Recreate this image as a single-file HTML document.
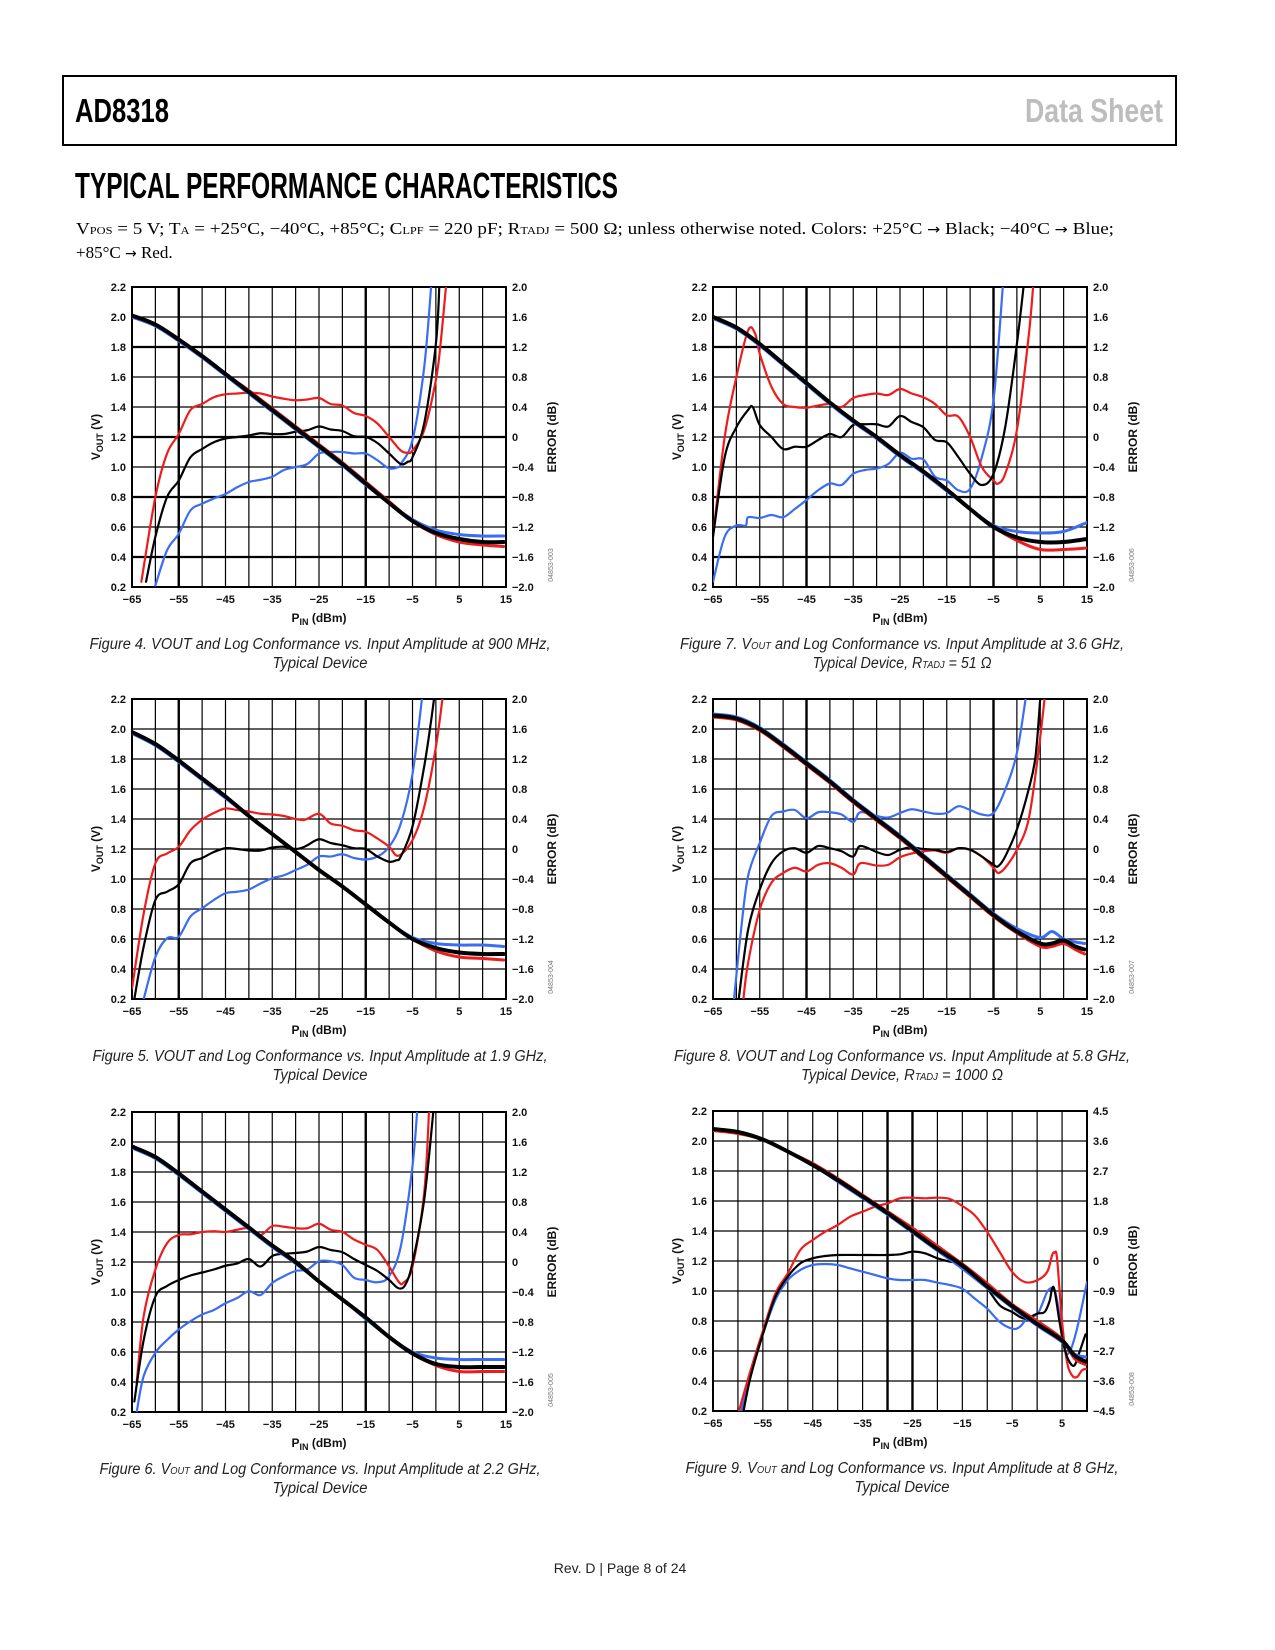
<!DOCTYPE html>
<html><head><meta charset="utf-8"><title>AD8318 Typical Performance Characteristics</title>
<style>
html,body{margin:0;padding:0;background:#fff;}
svg{display:block;}
.tk{font-family:"Liberation Sans",Arial,sans-serif;font-weight:bold;font-size:11px;fill:#111;}
.al{font-family:"Liberation Sans",Arial,sans-serif;font-weight:bold;font-size:12px;fill:#111;}
.cap{font-family:"Liberation Sans",Arial,sans-serif;font-style:italic;font-size:15.5px;fill:#222;}
.code{font-family:"Liberation Sans",Arial,sans-serif;font-size:7px;fill:#777;}
.arr{font-family:"DejaVu Sans",sans-serif;font-size:14px;}
</style></head>
<body>
<svg id="page" xmlns="http://www.w3.org/2000/svg" width="1275" height="1650" viewBox="0 0 1275 1650">
<rect x="0" y="0" width="1275" height="1650" fill="#fff"/>
<g>
<rect x="63" y="76" width="1113" height="69" fill="none" stroke="#000" stroke-width="2"/>
<text x="75" y="122" font-family="Liberation Sans Narrow, Liberation Sans, sans-serif" font-weight="bold" font-size="33" textLength="94" lengthAdjust="spacingAndGlyphs">AD8318</text>
<text x="1163" y="122" text-anchor="end" fill="#bdbdbd" font-family="Liberation Sans Narrow, Liberation Sans, sans-serif" font-weight="bold" font-size="33" textLength="138" lengthAdjust="spacingAndGlyphs">Data Sheet</text>
</g>
<text x="75" y="198" font-family="Liberation Sans Narrow, Liberation Sans, sans-serif" font-weight="bold" font-size="36" textLength="543" lengthAdjust="spacingAndGlyphs">TYPICAL PERFORMANCE CHARACTERISTICS</text>
<text x="76" y="234" font-family="Liberation Serif, serif" font-size="17" textLength="1038" lengthAdjust="spacingAndGlyphs">V<tspan font-size="11">POS</tspan> = 5 V; T<tspan font-size="11">A</tspan> = +25°C, −40°C, +85°C; C<tspan font-size="11">LPF</tspan> = 220 pF; R<tspan font-size="11">TADJ</tspan> = 500 Ω; unless otherwise noted. Colors: +25°C <tspan class="arr">→</tspan> Black; −40°C <tspan class="arr">→</tspan> Blue;</text>
<text x="76" y="258" font-family="Liberation Serif, serif" font-size="17">+85°C <tspan class="arr">→</tspan> Red.</text>
<text x="620" y="1573" text-anchor="middle" font-family="Liberation Sans, sans-serif" font-size="14" fill="#222">Rev. D | Page 8 of 24</text>
<g id="charts"></g>
</svg>
<script>
// ---------- shared tick labels ----------
const leftTickVals = [2.2,2.0,1.8,1.6,1.4,1.2,1.0,0.8,0.6,0.4,0.2];
const leftTickLabels = ['2.2','2.0','1.8','1.6','1.4','1.2','1.0','0.8','0.6','0.4','0.2'];
const errTickLabels2 = ['2.0','1.6','1.2','0.8','0.4','0','\u22120.4','\u22120.8','\u22121.2','\u22121.6','\u22122.0'];
const errTickLabels45 = ['4.5','3.6','2.7','1.8','0.9','0','\u22120.9','\u22121.8','\u22122.7','\u22123.6','\u22124.5'];
const xTickVals80 = [-65,-55,-45,-35,-25,-15,-5,5,15];
const xTickVals75 = [-65,-55,-45,-35,-25,-15,-5,5];

// ---------- VOUT data (V) ----------
const voutX = [-65,-60,-55,-50,-45,-40,-35,-30,-25,-20,-15,-10,-5,0,5,10,14.5];
const f4VoutBlack = [2.01,1.95,1.85,1.74,1.62,1.50,1.38,1.26,1.14,1.02,0.89,0.76,0.64,0.56,0.52,0.50,0.50];
const f4VoutBlue  = [2.00,1.94,1.84,1.73,1.61,1.49,1.37,1.25,1.13,1.01,0.88,0.76,0.65,0.58,0.55,0.54,0.54];
const f4VoutRed   = [2.01,1.95,1.85,1.74,1.62,1.51,1.39,1.27,1.15,1.03,0.90,0.77,0.64,0.55,0.50,0.48,0.47];
const f5VoutBlack = [1.98,1.90,1.79,1.67,1.55,1.42,1.30,1.18,1.06,0.95,0.83,0.71,0.60,0.54,0.51,0.50,0.50];
const f5VoutBlue  = [1.97,1.89,1.78,1.66,1.54,1.42,1.30,1.18,1.06,0.95,0.83,0.71,0.61,0.57,0.56,0.56,0.55];
const f5VoutRed   = [1.98,1.90,1.79,1.67,1.55,1.42,1.30,1.18,1.06,0.95,0.83,0.71,0.60,0.52,0.48,0.47,0.46];
const f6VoutBlack = [1.97,1.90,1.79,1.67,1.55,1.43,1.31,1.20,1.07,0.95,0.83,0.70,0.59,0.52,0.50,0.50,0.50];
const f6VoutBlue  = [1.96,1.89,1.78,1.66,1.54,1.42,1.30,1.19,1.07,0.95,0.82,0.70,0.60,0.56,0.55,0.55,0.55];
const f6VoutRed   = [1.97,1.90,1.79,1.67,1.55,1.43,1.31,1.20,1.07,0.95,0.83,0.70,0.59,0.51,0.47,0.47,0.47];
const f7VoutX = [-65,-60,-55,-50,-45,-40,-35,-30,-25,-20,-15,-10,-5,0,5,10,15];
const f7VoutBlack = [2.00,1.93,1.82,1.69,1.56,1.43,1.31,1.20,1.08,0.97,0.85,0.72,0.60,0.53,0.50,0.50,0.52];
const f7VoutBlue  = [1.99,1.92,1.81,1.68,1.55,1.42,1.30,1.19,1.07,0.96,0.84,0.72,0.61,0.57,0.56,0.57,0.63];
const f7VoutRed   = [2.00,1.93,1.82,1.69,1.56,1.43,1.31,1.20,1.08,0.97,0.85,0.72,0.60,0.51,0.45,0.45,0.46];
const f8VoutX = [-65,-60,-55,-50,-45,-40,-35,-30,-25,-20,-15,-10,-5,0,5,7.5,10,12.5,14.5];
const f8VoutBlack = [2.09,2.07,2.00,1.89,1.77,1.65,1.52,1.40,1.28,1.15,1.02,0.89,0.76,0.65,0.57,0.57,0.59,0.55,0.53];
const f8VoutBlue  = [2.10,2.08,2.01,1.90,1.78,1.66,1.53,1.41,1.29,1.16,1.03,0.90,0.77,0.67,0.61,0.65,0.60,0.58,0.57];
const f8VoutRed   = [2.08,2.06,1.99,1.88,1.76,1.64,1.51,1.39,1.27,1.14,1.01,0.88,0.75,0.64,0.55,0.55,0.57,0.53,0.50];
const f9VoutX = [-65,-60,-55,-50,-45,-40,-35,-30,-25,-20,-15,-10,-5,0,5,7.5,9.7];
const f9VoutBlack = [2.08,2.06,2.01,1.93,1.84,1.74,1.63,1.52,1.40,1.28,1.17,1.03,0.90,0.78,0.67,0.57,0.53];
const f9VoutBlue  = [2.08,2.06,2.01,1.93,1.84,1.73,1.62,1.51,1.39,1.27,1.15,1.02,0.89,0.77,0.66,0.58,0.56];
const f9VoutRed   = [2.07,2.05,2.01,1.93,1.85,1.75,1.64,1.53,1.42,1.30,1.18,1.05,0.91,0.80,0.68,0.55,0.51];

// ---------- Log conformance error data (dB) ----------
const f4ErrBlackX = [-62,-60,-57.5,-55,-52.5,-50,-47.5,-45,-42.5,-40,-37.5,-35,-32.5,-30,-27.5,-25,-22.5,-20,-17.5,-15,-12.5,-10,-7.5,-6,-5,-2.5,0,0.8];
const f4ErrBlack  = [-1.93,-1.33,-0.8,-0.58,-0.27,-0.16,-0.07,-0.02,0,0.02,0.05,0.04,0.04,0.07,0.09,0.14,0.10,0.08,0.01,0,-0.08,-0.22,-0.36,-0.33,-0.27,0.18,1.24,2.1];
const f4ErrRedX = [-63,-60,-57.5,-55,-52.5,-50,-47.5,-45,-42.5,-40,-37.5,-35,-32.5,-30,-27.5,-25,-22.5,-20,-17.5,-15,-12.5,-10,-7.5,-6,-5,-2.5,0,1,2.3];
const f4ErrRed  = [-1.93,-0.8,-0.22,0.04,0.36,0.44,0.53,0.57,0.58,0.59,0.58,0.54,0.51,0.49,0.50,0.52,0.44,0.42,0.32,0.28,0.18,0,-0.18,-0.21,-0.18,0.09,0.76,1.24,2.1];
const f4ErrBlueX = [-60,-57.5,-55,-52.5,-50,-47.5,-45,-42.5,-40,-37.5,-35,-32.5,-30,-27.5,-25,-22.5,-20,-17.5,-15,-12.5,-10,-8,-7.5,-5,-2.5,-0.9];
const f4ErrBlue  = [-1.98,-1.51,-1.29,-0.98,-0.89,-0.82,-0.76,-0.67,-0.6,-0.57,-0.53,-0.44,-0.4,-0.36,-0.22,-0.2,-0.2,-0.22,-0.22,-0.31,-0.42,-0.40,-0.36,-0.04,0.93,2.1];

const f5ErrBlackX = [-64.5,-62.5,-60,-57.5,-55,-52.5,-50,-47.5,-45,-42.5,-40,-37.5,-35,-32.5,-30,-28.5,-27.5,-25,-22.5,-20,-17.5,-15,-12.5,-10,-8.5,-7.5,-5,-2.5,-1,-0.2];
const f5ErrBlack  = [-2,-1.3,-0.68,-0.57,-0.47,-0.19,-0.12,-0.04,0.01,0,-0.02,-0.02,0.02,0.03,0,0.02,0.05,0.13,0.08,0.05,0.01,0,-0.1,-0.17,-0.15,-0.1,0.3,1.1,1.72,2.1];
const f5ErrRedX = [-65,-62.5,-60,-57.5,-55,-52.5,-50,-47.5,-45,-42.5,-40,-37.5,-35,-32.5,-30,-28,-25,-22.5,-20,-17.5,-15,-12.5,-10,-8,-5,-2.5,0,1.6];
const f5ErrRed  = [-1.86,-0.86,-0.19,-0.06,0.03,0.25,0.39,0.48,0.54,0.52,0.5,0.47,0.46,0.44,0.4,0.39,0.47,0.34,0.31,0.25,0.23,0.14,0.03,-0.09,0.12,0.56,1.36,2.1];
const f5ErrBlueX = [-62.5,-60,-57.5,-55,-52.5,-50,-47.5,-45,-42.5,-40,-37.5,-35,-32.5,-30,-27.5,-25,-22.5,-20,-17.5,-15,-12.5,-10,-7.5,-5,-2.8];
const f5ErrBlue  = [-2,-1.44,-1.19,-1.17,-0.9,-0.79,-0.68,-0.59,-0.57,-0.54,-0.46,-0.39,-0.35,-0.28,-0.21,-0.1,-0.1,-0.07,-0.12,-0.14,-0.1,0.03,0.34,1.0,2.1];

const f6ErrBlackX = [-64.5,-62.5,-60,-57.5,-55,-52.5,-50,-47.5,-45,-42.5,-40,-37.5,-35,-32.5,-30,-27.5,-25,-22.5,-20,-17.5,-15,-12.5,-10,-8,-6.5,-5,-2.5,-0.4];
const f6ErrBlack  = [-1.86,-1.04,-0.46,-0.32,-0.24,-0.18,-0.14,-0.1,-0.05,-0.02,0.04,-0.06,0.08,0.11,0.12,0.14,0.2,0.16,0.13,0.04,-0.04,-0.12,-0.24,-0.35,-0.3,-0.01,0.83,2.1];
const f6ErrRedX = [-64,-62.5,-60,-57.5,-55,-52.5,-50,-47.5,-45,-42.5,-40,-37.5,-35,-32.5,-30,-27.5,-25,-22.5,-20,-17.5,-15,-12.5,-10,-8,-7,-5,-2.5,-1.4];
const f6ErrRed  = [-1.61,-0.72,-0.1,0.25,0.36,0.37,0.4,0.41,0.4,0.43,0.45,0.36,0.48,0.47,0.45,0.45,0.51,0.43,0.4,0.3,0.23,0.16,-0.06,-0.26,-0.28,-0.06,0.92,2.1];
const f6ErrBlueX = [-64,-62.5,-60,-57.5,-55,-52.5,-50,-47.5,-45,-42.5,-40,-37.5,-35,-32.5,-30,-27.5,-25,-22.5,-20,-17.5,-15,-12.5,-10,-7.5,-5,-3.9];
const f6ErrBlue  = [-2,-1.52,-1.21,-1.04,-0.9,-0.79,-0.7,-0.64,-0.55,-0.48,-0.39,-0.44,-0.28,-0.19,-0.12,-0.1,0.01,0.01,-0.04,-0.21,-0.24,-0.27,-0.19,0.21,1.28,2.1];

const f7ErrBlackX = [-65,-62.5,-60,-57.5,-56.5,-55,-52.5,-50,-47.5,-45,-42.5,-40,-37.5,-35,-32.5,-30,-27.5,-25,-22.5,-20,-17.5,-15,-12.5,-10,-7.5,-5,-2.5,0,1.6];
const f7ErrBlack  = [-1.33,-0.27,0.13,0.36,0.4,0.16,0,-0.16,-0.13,-0.13,-0.04,0.04,0,0.16,0.17,0.17,0.14,0.28,0.2,0.13,-0.04,-0.07,-0.27,-0.49,-0.64,-0.49,0.13,1.24,2.1];
const f7ErrRedX = [-65,-62.5,-60,-57.5,-56,-55,-52.5,-50,-47.5,-45,-42.5,-40,-37.5,-35,-32.5,-30,-27.5,-25,-22.5,-20,-17.5,-15,-12.5,-10,-7.5,-5,-4,-2.5,0,2.5,3.6];
const f7ErrRed  = [-1.33,0,0.8,1.42,1.38,1.11,0.67,0.44,0.4,0.39,0.42,0.44,0.4,0.52,0.56,0.58,0.56,0.64,0.58,0.53,0.44,0.29,0.27,0,-0.4,-0.58,-0.62,-0.49,0.09,1.33,2.1];
const f7ErrBlueX = [-65,-62.5,-60,-58,-57.5,-55,-52.5,-50,-47.5,-45,-42.5,-40,-37.5,-35,-32.5,-30,-27.5,-25,-22.5,-20,-17.5,-15,-12.5,-10,-7.5,-5,-2.9];
const f7ErrBlue  = [-1.93,-1.33,-1.18,-1.18,-1.07,-1.08,-1.04,-1.07,-0.96,-0.84,-0.71,-0.62,-0.64,-0.49,-0.44,-0.42,-0.36,-0.21,-0.29,-0.3,-0.53,-0.58,-0.71,-0.69,-0.27,0.49,2.1];

const f8ErrBlackX = [-59.5,-57.5,-55,-52.5,-50,-47.5,-45,-42.5,-40,-37.5,-35,-33.5,-30,-27.5,-25,-22.5,-20,-17.5,-15,-12.5,-10,-7.5,-5,-4,-2.5,0,2.5,4,5.1];
const f8ErrBlack  = [-2,-1.08,-0.54,-0.19,-0.03,0.01,-0.05,0.04,0.01,-0.03,-0.1,0.04,-0.04,-0.08,-0.01,0.02,0,-0.01,-0.04,0.01,-0.01,-0.1,-0.21,-0.23,-0.1,0.26,0.79,1.24,2.1];
const f8ErrRedX = [-58.5,-57.5,-55,-52.5,-50,-47.5,-45,-42.5,-40,-37.5,-35,-33.5,-30,-27.5,-25,-22.5,-20,-17.5,-15,-12.5,-10,-7.5,-5,-4,-2.5,0,2.5,4.5,6.1];
const f8ErrRed  = [-2,-1.52,-0.81,-0.45,-0.32,-0.25,-0.3,-0.21,-0.19,-0.25,-0.34,-0.19,-0.22,-0.21,-0.11,-0.06,-0.03,-0.02,-0.05,0.01,-0.01,-0.1,-0.25,-0.32,-0.25,-0.01,0.39,1.24,2.1];
const f8ErrBlueX = [-60.5,-59,-57.5,-55,-52.5,-50,-47.5,-45,-42.5,-40,-37.5,-35,-33.5,-30,-27.5,-25,-22.5,-20,-17.5,-15,-12.5,-10,-7.5,-5,-2.5,0,2.1];
const f8ErrBlue  = [-2,-1.08,-0.36,0.08,0.44,0.5,0.52,0.41,0.49,0.49,0.46,0.36,0.49,0.44,0.42,0.48,0.53,0.5,0.47,0.48,0.57,0.52,0.46,0.48,0.79,1.28,2.1];

const f9ErrBlackX = [-59,-57.5,-55,-52.5,-50,-47.5,-45,-42.5,-40,-35,-30,-27.5,-25,-22.5,-20,-17.5,-15,-12.5,-10,-7.5,-5,-2.5,0,1.5,2.5,3,3.5,4.5,5.5,6.5,7.5,8.5,9.7];
const f9ErrBlack  = [-4.6,-3.5,-2.2,-1.08,-0.47,-0.07,0.08,0.15,0.18,0.18,0.18,0.2,0.28,0.23,0.08,-0.02,-0.08,-0.48,-0.83,-1.33,-1.53,-1.73,-1.58,-1.53,-1.2,-0.83,-0.88,-1.83,-2.63,-3.03,-3.13,-2.73,-2.2];
const f9ErrBlueX = [-59.5,-57.5,-55,-52.5,-50,-47.5,-45,-42.5,-40,-37.5,-35,-32.5,-30,-27.5,-25,-22.5,-20,-17.5,-15,-12.5,-10,-7.5,-5,-3.5,-2,0,1,2.2,3.5,4.5,5.5,6.5,8,10];
const f9ErrBlue  = [-4.6,-3.4,-2.2,-1.17,-0.57,-0.27,-0.12,-0.09,-0.12,-0.22,-0.32,-0.42,-0.52,-0.57,-0.57,-0.57,-0.65,-0.72,-0.83,-1.13,-1.43,-1.83,-2.03,-1.98,-1.73,-1.6,-1.3,-0.88,-0.88,-1.63,-2.63,-2.73,-2.03,-0.63];
const f9ErrRedX = [-60,-57.5,-55,-52.5,-50,-47.5,-45,-42.5,-40,-37.5,-35,-32.5,-30,-27.5,-25,-22.5,-20,-17.5,-15,-12.5,-10,-7.5,-5,-2.5,0,2,3,3.5,4,5,6,7,8,9,10];
const f9ErrRed  = [-4.6,-3.3,-2.1,-0.98,-0.37,0.33,0.63,0.88,1.08,1.33,1.48,1.63,1.73,1.88,1.9,1.88,1.9,1.86,1.65,1.37,0.87,0.27,-0.33,-0.63,-0.58,-0.33,0.17,0.25,0.07,-1.83,-3.03,-3.43,-3.48,-3.28,-3.23];

// ---------- rendering ----------
const NS = 'http://www.w3.org/2000/svg';
const root = document.getElementById('charts');
const BLACK = '#000', BLUE = '#3b6df2', RED = '#ee1c1c';

function mk(tag, attrs, parent) {
  const el = document.createElementNS(NS, tag);
  for (const k in attrs) el.setAttribute(k, attrs[k]);
  (parent || root).appendChild(el);
  return el;
}
function smoothPath(pts) {
  if (!pts.length) return '';
  let d = 'M' + pts[0][0].toFixed(2) + ',' + pts[0][1].toFixed(2);
  for (let i = 0; i < pts.length - 1; i++) {
    const p0 = pts[Math.max(0, i - 1)], p1 = pts[i], p2 = pts[i + 1], p3 = pts[Math.min(pts.length - 1, i + 2)];
    const c1x = p1[0] + (p2[0] - p0[0]) / 6, c1y = p1[1] + (p2[1] - p0[1]) / 6;
    const c2x = p2[0] - (p3[0] - p1[0]) / 6, c2y = p2[1] - (p3[1] - p1[1]) / 6;
    d += ' C' + c1x.toFixed(2) + ',' + c1y.toFixed(2) + ' ' + c2x.toFixed(2) + ',' + c2y.toFixed(2) + ' ' + p2[0].toFixed(2) + ',' + p2[1].toFixed(2);
  }
  return d;
}

const charts = [
  {id:'fig4', L:132, T:287, xmax:15, emax:2, thickX:[-55,-15], thickY:[1.8,1.2,0.8,0.4], xt:xTickVals80, rt:errTickLabels2, code:'04853-003',
   cap1:['Figure 4. VOUT and Log Conformance vs. Input Amplitude at 900 MHz,'], w1:461, cap2:'Typical Device', w2:95, cx:320,
   vout:[[voutX,f4VoutBlue,BLUE],[voutX,f4VoutRed,RED],[voutX,f4VoutBlack,BLACK]],
   err:[[f4ErrBlueX,f4ErrBlue,BLUE],[f4ErrRedX,f4ErrRed,RED],[f4ErrBlackX,f4ErrBlack,BLACK]]},
  {id:'fig5', L:132, T:699, xmax:15, emax:2, thickX:[-55,-15], thickY:[], xt:xTickVals80, rt:errTickLabels2, code:'04853-004',
   cap1:['Figure 5. VOUT and Log Conformance vs. Input Amplitude at 1.9 GHz,'], w1:455, cap2:'Typical Device', w2:95, cx:320,
   vout:[[voutX,f5VoutBlue,BLUE],[voutX,f5VoutRed,RED],[voutX,f5VoutBlack,BLACK]],
   err:[[f5ErrBlueX,f5ErrBlue,BLUE],[f5ErrRedX,f5ErrRed,RED],[f5ErrBlackX,f5ErrBlack,BLACK]]},
  {id:'fig6', L:132, T:1112, xmax:15, emax:2, thickX:[-55,-15], thickY:[], xt:xTickVals80, rt:errTickLabels2, code:'04853-005',
   cap1:['Figure 6. V','OUT',' and Log Conformance vs. Input Amplitude at 2.2 GHz,'], w1:441, cap2:'Typical Device', w2:95, cx:320,
   vout:[[voutX,f6VoutBlue,BLUE],[voutX,f6VoutRed,RED],[voutX,f6VoutBlack,BLACK]],
   err:[[f6ErrBlueX,f6ErrBlue,BLUE],[f6ErrRedX,f6ErrRed,RED],[f6ErrBlackX,f6ErrBlack,BLACK]]},
  {id:'fig7', L:713, T:287, xmax:15, emax:2, thickX:[-45,-5], thickY:[1.8,0.8,0.4], xt:xTickVals80, rt:errTickLabels2, code:'04853-006',
   cap1:['Figure 7. V','OUT',' and Log Conformance vs. Input Amplitude at 3.6 GHz,'], w1:444, cap2:['Typical Device, R','TADJ',' = 51 \u03A9'], w2:179, cx:902,
   vout:[[f7VoutX,f7VoutBlue,BLUE],[f7VoutX,f7VoutRed,RED],[f7VoutX,f7VoutBlack,BLACK]],
   err:[[f7ErrBlueX,f7ErrBlue,BLUE],[f7ErrRedX,f7ErrRed,RED],[f7ErrBlackX,f7ErrBlack,BLACK]]},
  {id:'fig8', L:713, T:699, xmax:15, emax:2, thickX:[-45,-5], thickY:[], xt:xTickVals80, rt:errTickLabels2, code:'04853-007',
   cap1:['Figure 8. VOUT and Log Conformance vs. Input Amplitude at 5.8 GHz,'], w1:456, cap2:['Typical Device, R','TADJ',' = 1000 \u03A9'], w2:202, cx:902,
   vout:[[f8VoutX,f8VoutBlue,BLUE],[f8VoutX,f8VoutRed,RED],[f8VoutX,f8VoutBlack,BLACK]],
   err:[[f8ErrBlueX,f8ErrBlue,BLUE],[f8ErrRedX,f8ErrRed,RED],[f8ErrBlackX,f8ErrBlack,BLACK]]},
  {id:'fig9', L:713, T:1111, xmax:10, emax:4.5, thickX:[-30,-25], thickY:[], xt:xTickVals75, rt:errTickLabels45, code:'04853-008',
   cap1:['Figure 9. V','OUT',' and Log Conformance vs. Input Amplitude at 8 GHz,'], w1:433, cap2:'Typical Device', w2:95, cx:902,
   vout:[[f9VoutX,f9VoutBlue,BLUE],[f9VoutX,f9VoutRed,RED],[f9VoutX,f9VoutBlack,BLACK]],
   err:[[f9ErrBlueX,f9ErrBlue,BLUE],[f9ErrRedX,f9ErrRed,RED],[f9ErrBlackX,f9ErrBlack,BLACK]]}
];

function addCaptionText(parent, parts, x, y, w, nm) {
  const t = mk('text', {x:x, y:y, 'text-anchor':'middle', 'class':'cap', textLength:w, lengthAdjust:'spacingAndGlyphs'}, parent);
  
  
  const arr = Array.isArray(parts) ? parts : [parts];
  arr.forEach((p, i) => {
    const s = mk('tspan', i % 2 === 1 ? {'font-size':'10'} : {}, t);
    s.textContent = p;
  });
}

charts.forEach(c => {
  const W = 374, H = 300, L = c.L, T = c.T, R = L + W, B = T + H;
  const xmin = -65;
  const sx = x => L + (x - xmin) / (c.xmax - xmin) * W;
  const sy = v => T + (2.2 - v) / 2.0 * H;
  const se = e => T + (c.emax - e) / (2 * c.emax) * H;

  const g = mk('g', {});
  
  

  const clip = mk('clipPath', {id: c.id + '-clip'}, g);
  mk('rect', {x:L, y:T, width:W, height:H}, clip);

  const grid = mk('g', {}, g);
  
  
  for (let x = xmin + 5; x < c.xmax; x += 5) {
    const thick = c.thickX.indexOf(x) >= 0;
    const ln = mk('line', {x1:sx(x), x2:sx(x), y1:T, y2:B, stroke:'#000', 'stroke-width': thick ? 2.4 : 1.2}, grid);
    
    
  }
  leftTickVals.forEach(v => {
    if (v >= 2.2 || v <= 0.2) return;
    const thick = c.thickY.some(t => Math.abs(t - v) < 1e-6);
    const ln = mk('line', {x1:L, x2:R, y1:sy(v), y2:sy(v), stroke:'#000', 'stroke-width': thick ? 2.2 : 1.2}, grid);
    
    
  });
  const frame = mk('rect', {x:L, y:T, width:W, height:H, fill:'none', stroke:'#000', 'stroke-width':2}, grid);
  
  

  leftTickVals.forEach((v, i) => {
    const t = mk('text', {x:L - 6, y:sy(v) + 4, 'text-anchor':'end', 'class':'tk'}, g);
    
    
    t.textContent = leftTickLabels[i];
  });
  c.rt.forEach((lab, i) => {
    const t = mk('text', {x:R + 6, y:T + i * H / 10 + 4, 'class':'tk'}, g);
    
    
    t.textContent = lab;
  });
  c.xt.forEach(v => {
    const t = mk('text', {x:sx(v), y:B + 16, 'text-anchor':'middle', 'class':'tk'}, g);
    
    
    t.textContent = v < 0 ? '\u2212' + Math.abs(v) : String(v);
  });
  const xt = mk('text', {x:L + W / 2, y:B + 35, 'text-anchor':'middle', 'class':'al'}, g);
  
  
  mk('tspan', {}, xt).textContent = 'P';
  mk('tspan', {'font-size':'9', dy:'3'}, xt).textContent = 'IN';
  mk('tspan', {dy:'-3'}, xt).textContent = ' (dBm)';

  const yt = mk('text', {x:0, y:0, 'text-anchor':'middle', 'class':'al', transform:'translate(' + (L - 32) + ',' + (T + H / 2) + ') rotate(-90)'}, g);
  
  
  mk('tspan', {}, yt).textContent = 'V';
  mk('tspan', {'font-size':'9', dy:'3'}, yt).textContent = 'OUT';
  mk('tspan', {dy:'-3'}, yt).textContent = ' (V)';

  const et = mk('text', {x:0, y:0, 'text-anchor':'middle', 'class':'al', transform:'translate(' + (R + 50) + ',' + (T + H / 2) + ') rotate(-90)'}, g);
  
  
  et.textContent = 'ERROR (dB)';

  const cd = mk('text', {x:0, y:0, 'text-anchor':'middle', 'class':'code', transform:'translate(' + (R + 47) + ',' + (B - 22) + ') rotate(-90)'}, g);
  
  
  cd.textContent = c.code;

  const series = mk('g', {'clip-path':'url(#' + c.id + '-clip)'}, g);
  
  
  const cname = {'#000':'black','#3b6df2':'blue','#ee1c1c':'red'};
  c.err.forEach(s => {
    const pts = s[0].map((x, i) => [sx(x), se(s[1][i])]);
    const p = mk('path', {d:smoothPath(pts), fill:'none', stroke:s[2], 'stroke-width':2.2, 'stroke-linejoin':'round', 'stroke-linecap':'round'}, series);
    
    
  });
  c.vout.forEach(s => {
    const pts = s[0].map((x, i) => [sx(x), sy(s[1][i])]);
    const p = mk('path', {d:smoothPath(pts), fill:'none', stroke:s[2], 'stroke-width': s[2] === BLACK ? 4 : 3, 'stroke-linejoin':'round', 'stroke-linecap':'round'}, series);
    
    
  });

  addCaptionText(g, c.cap1, c.cx, B + 62, c.w1, 'figure-caption-line-1');
  addCaptionText(g, c.cap2, c.cx, B + 81, c.w2, 'figure-caption-line-2');
});
</script>
</body></html>
